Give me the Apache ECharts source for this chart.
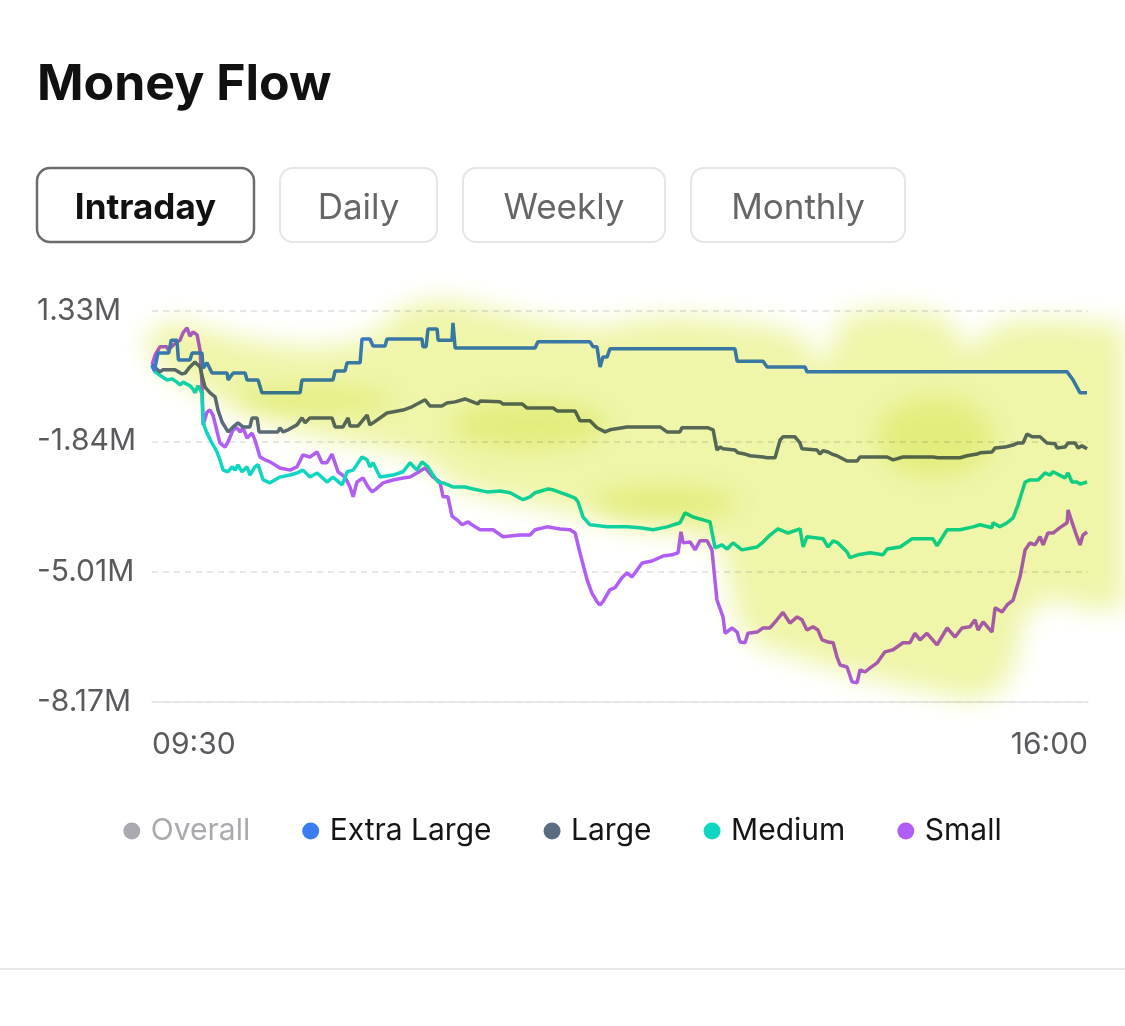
<!DOCTYPE html>
<html><head><meta charset="utf-8">
<script src="https://cdn.jsdelivr.net/npm/echarts@6/dist/echarts.min.js"></script>
<style>html,body{margin:0;padding:0;background:#fff}#c{width:1125px;height:1026px}</style>
</head><body><div id="c"></div>
<script>
// ---- data (values in millions, x = minutes after 09:30) ----
const legendNames = ['Overall', 'Extra Large', 'Large', 'Medium', 'Small'];
const periodButtons = ['Intraday', 'Daily', 'Weekly', 'Monthly'];
const xTickLabels = ['09:30', '16:00'];
const yTickLabels = ['-8.17M', '-5.01M', '-1.84M', '1.33M'];

const overallData = []; // hidden (legend item switched off)

const extraLargeData = [[0,0.0],[1,-0.12],[2.5,0.31],[7,0.31],[8,0.62],[10.4,0.62],[11,0.14],[15.8,0.14],[16.7,0.31],[20.8,0.31],[21.3,-0.06],[22.9,0.07],[25,-0.18],[31.3,-0.18],[31.7,-0.35],[33.8,-0.18],[38.8,-0.18],[39.6,-0.35],[44.2,-0.35],[45.8,-0.66],[61.7,-0.66],[62.5,-0.35],[75.4,-0.35],[76.3,-0.13],[80.4,-0.13],[81.3,0.07],[86.7,0.07],[87.5,0.65],[90.8,0.65],[92.1,0.48],[97.1,0.48],[97.9,0.65],[112.5,0.65],[112.9,0.46],[114.2,0.46],[115,0.89],[118.8,0.89],[119.2,0.62],[125,0.62],[125.4,1.04],[126.3,0.43],[159.6,0.43],[160.8,0.58],[182.5,0.58],[183.8,0.46],[185.4,0.46],[186.7,-0.03],[187.9,0.21],[189.6,0.21],[190.8,0.41],[242.9,0.41],[243.8,0.11],[254.6,0.11],[256.3,-0.03],[272.1,-0.03],[272.9,-0.15],[381.3,-0.15],[383.8,-0.35],[386.7,-0.66],[389.6,-0.66]];

const largeData = [[0,0.02],[3.3,-0.15],[4.6,-0.10],[9.6,-0.10],[12.5,-0.20],[13.8,-0.18],[15.8,-0.03],[17.9,0.09],[20,-0.03],[21.3,-0.35],[22.1,-0.52],[24.2,-0.66],[26.3,-0.76],[27.5,-1.08],[29.2,-1.37],[31.7,-1.61],[33.8,-1.49],[35.8,-1.39],[37.9,-1.49],[40.8,-1.49],[41.7,-1.27],[43.8,-1.27],[44.6,-1.61],[52.5,-1.61],[53.3,-1.51],[54.6,-1.61],[56.7,-1.56],[60.4,-1.44],[62.5,-1.27],[63.8,-1.39],[65.8,-1.27],[75,-1.27],[76.3,-1.49],[79.6,-1.49],[81.7,-1.27],[82.5,-1.47],[85.8,-1.47],[89.6,-1.20],[90.8,-1.44],[92.1,-1.39],[97.9,-1.15],[104.6,-1.08],[108.3,-1.00],[113.8,-0.83],[115.8,-0.98],[120.8,-0.98],[122.9,-0.91],[126.3,-0.88],[130.4,-0.81],[135.8,-0.93],[136.7,-0.86],[145,-0.88],[146.3,-0.93],[154.2,-0.93],[156.3,-1.03],[167.1,-1.03],[168.8,-1.10],[176.3,-1.10],[178.3,-1.34],[182.5,-1.34],[185.4,-1.51],[188.8,-1.61],[190.8,-1.56],[197.9,-1.49],[211.7,-1.49],[214.6,-1.61],[220,-1.61],[220.8,-1.51],[231.7,-1.51],[233.8,-1.56],[235.4,-2.05],[236.7,-1.98],[237.9,-2.02],[242.9,-2.05],[244.2,-2.12],[247.1,-2.15],[249.2,-2.19],[254.6,-2.22],[256.3,-2.24],[259.6,-2.24],[261.7,-1.81],[262.9,-1.73],[267.9,-1.73],[270,-1.88],[270.8,-2.02],[277.1,-2.05],[278.3,-2.15],[279.6,-2.07],[281.7,-2.10],[283.3,-2.15],[283.8,-2.12],[285.4,-2.19],[289.6,-2.32],[293.8,-2.32],[295,-2.22],[306.3,-2.22],[308.8,-2.29],[312.9,-2.22],[325.4,-2.22],[327.5,-2.24],[336.7,-2.24],[339.6,-2.19],[343.8,-2.15],[345,-2.12],[350,-2.10],[351.3,-2.00],[355.4,-1.98],[358.8,-1.93],[360.8,-1.88],[362.9,-1.88],[364.6,-1.66],[366.7,-1.73],[370,-1.73],[372.9,-1.88],[376.3,-1.90],[377.1,-2.00],[380.4,-1.98],[381.7,-1.88],[384.6,-1.88],[385.8,-2.00],[387.5,-1.95],[389.6,-2.02]];

const mediumData = [[0,0.02],[1.3,-0.15],[4.2,-0.27],[6.3,-0.35],[8.3,-0.32],[10.4,-0.40],[11.7,-0.47],[12.9,-0.40],[15.8,-0.49],[17.1,-0.57],[17.9,-0.66],[19.2,-0.49],[20.8,-0.66],[21.3,-1.39],[22.9,-1.64],[25,-1.88],[27.1,-2.10],[28.3,-2.29],[29.6,-2.54],[31.7,-2.58],[33.3,-2.46],[34.6,-2.54],[35.8,-2.41],[37.5,-2.58],[39.6,-2.46],[40.8,-2.66],[42.9,-2.46],[44.2,-2.41],[46.3,-2.78],[49.2,-2.85],[53.3,-2.71],[57.5,-2.66],[60.4,-2.61],[62.9,-2.54],[65.8,-2.71],[68.8,-2.61],[72.9,-2.83],[75.4,-2.71],[79.2,-2.90],[81.3,-2.58],[83.8,-2.54],[87.5,-2.22],[89.6,-2.29],[90.8,-2.46],[92.1,-2.36],[95,-2.71],[100.4,-2.66],[104.6,-2.58],[107.5,-2.36],[110.4,-2.54],[112.5,-2.34],[115,-2.46],[117.1,-2.66],[119.2,-2.83],[121.3,-2.85],[125.4,-2.95],[130.4,-2.95],[133.8,-3.00],[139.6,-3.07],[145,-3.05],[149.2,-3.09],[154.6,-3.26],[157.5,-3.19],[159.6,-3.09],[165,-3.00],[167.1,-3.02],[172.9,-3.14],[176.3,-3.22],[177.5,-3.31],[179.6,-3.68],[182.5,-3.87],[189.6,-3.92],[197.9,-3.92],[203.3,-3.94],[208.8,-3.99],[214.6,-3.92],[220,-3.82],[222.1,-3.58],[225.4,-3.68],[232.5,-3.80],[234.6,-4.43],[237.5,-4.36],[239.6,-4.46],[242.1,-4.31],[245.8,-4.48],[252.1,-4.41],[254.6,-4.29],[257.5,-4.12],[260.8,-3.97],[265,-4.07],[270,-3.97],[271.3,-4.41],[272.9,-4.16],[279.6,-4.21],[281.7,-4.41],[283.8,-4.26],[285.8,-4.31],[289.6,-4.53],[290.8,-4.67],[294.2,-4.60],[299.2,-4.55],[304.6,-4.60],[306.3,-4.46],[311.7,-4.41],[316.7,-4.21],[325.4,-4.21],[327.1,-4.38],[331.3,-3.99],[336.7,-3.99],[342.1,-3.92],[345,-3.87],[350,-3.94],[350.4,-3.82],[353.3,-3.92],[356.3,-3.82],[358.8,-3.70],[360.8,-3.39],[363.8,-2.83],[365.8,-2.78],[369.2,-2.78],[372.1,-2.61],[374.2,-2.66],[375.4,-2.58],[380.4,-2.73],[381.7,-2.61],[383.3,-2.83],[385.4,-2.83],[386.7,-2.88],[389.6,-2.83]];

const smallData = [[0,0.02],[1.3,0.26],[3.3,0.46],[6.3,0.46],[6.7,0.38],[8.8,0.50],[11.7,0.62],[12.9,0.80],[14.6,0.92],[15.8,0.72],[17.1,0.82],[18.8,0.75],[20,0.38],[20.8,-0.42],[21.3,-1.44],[22.9,-1.13],[24.2,-1.08],[25.4,-1.20],[28.3,-1.88],[30.4,-1.98],[31.7,-1.85],[33.8,-1.56],[35.4,-1.51],[36.7,-1.61],[37.9,-1.51],[39.6,-1.76],[41.7,-1.64],[42.9,-1.81],[45,-2.22],[47.1,-2.29],[49.2,-2.34],[53.3,-2.49],[57.5,-2.54],[60.4,-2.46],[62.9,-2.17],[65.8,-2.22],[68.8,-2.10],[70.8,-2.36],[72.9,-2.36],[75,-2.15],[77.5,-2.58],[80.4,-2.71],[82.5,-2.95],[83.8,-3.19],[85.4,-2.83],[87.9,-2.73],[90,-2.95],[91.7,-3.07],[92.9,-3.02],[96.3,-2.85],[100.4,-2.78],[104.6,-2.73],[107.5,-2.71],[110.4,-2.61],[113.8,-2.49],[114.6,-2.54],[117.1,-2.71],[120,-2.83],[121.3,-3.19],[123.3,-3.19],[125,-3.66],[127.1,-3.75],[129.2,-3.87],[131.7,-3.80],[133.3,-3.87],[136.7,-3.99],[142.1,-3.99],[146.3,-4.16],[153.3,-4.12],[157.5,-4.12],[159.6,-3.99],[164.6,-3.92],[170,-3.97],[174.2,-3.99],[176.3,-4.07],[178.3,-4.55],[181.3,-5.21],[183.3,-5.53],[185.4,-5.74],[186.7,-5.82],[187.9,-5.74],[190.8,-5.45],[192.9,-5.40],[195.8,-5.16],[197.9,-5.04],[200,-5.14],[204.2,-4.80],[208.3,-4.75],[212.9,-4.63],[216.7,-4.60],[219.2,-4.55],[220.4,-4.04],[221.3,-4.31],[224.2,-4.29],[226.3,-4.48],[228.3,-4.26],[231.3,-4.26],[233.3,-4.48],[235.4,-5.70],[237.9,-6.11],[238.8,-6.51],[241.7,-6.38],[243.8,-6.48],[245,-6.72],[247.1,-6.74],[248.3,-6.51],[252.1,-6.48],[254.6,-6.38],[257.5,-6.38],[260.4,-6.18],[262.9,-6.00],[265.8,-6.26],[268.8,-6.11],[270.8,-6.18],[272.9,-6.43],[275.4,-6.35],[277.5,-6.43],[279.2,-6.67],[281.7,-6.72],[283.8,-6.74],[285.4,-7.08],[286.7,-7.28],[289.6,-7.33],[291.7,-7.69],[293.8,-7.71],[295,-7.40],[297.1,-7.45],[299.2,-7.35],[302.1,-7.23],[305.4,-6.96],[308.8,-6.91],[312.9,-6.74],[315.8,-6.74],[317.9,-6.51],[320,-6.67],[322.9,-6.51],[327.1,-6.79],[331.3,-6.38],[334.6,-6.60],[337.5,-6.38],[340.8,-6.35],[342.9,-6.18],[344.2,-6.43],[346.3,-6.23],[350,-6.48],[351.3,-5.89],[354.2,-5.99],[356.3,-5.82],[358.8,-5.70],[361.7,-5.13],[363.8,-4.48],[365.8,-4.31],[367.9,-4.36],[370,-4.16],[371.3,-4.36],[373.3,-4.07],[375.4,-4.07],[378.3,-3.94],[381.3,-3.82],[381.7,-3.51],[383.3,-3.80],[385.4,-4.16],[386.7,-4.36],[387.9,-4.12],[389.6,-4.04]];

// ---- styling ----
const FONT = 'Inter, "DejaVu Sans", sans-serif';
const colors = { 'Overall': '#b6b6bc', 'Extra Large': '#3b7cf2', 'Large': '#5b6b80', 'Medium': '#0fd6c2', 'Small': '#b05ef5' };

// decorative highlighter wash (page pixels)
const washMain = [[145,340],[160,326],[180,321],[205,329],[234,337],[270,344],[303,347],[340,346],[366,339],[385,324],[405,308],[430,300],[460,302],[492,310],[530,318],[567,325],[600,328],[625,322],[660,317],[700,318],[740,322],[780,328],[805,336],[815,362],[828,358],[840,318],[880,309],[925,312],[950,320],[962,345],[975,348],[987,330],[1010,322],[1051,320],[1125,325],[1125,608],[1095,610],[1050,598],[1025,615],[1015,660],[1002,690],[970,700],[925,690],[862,677],[806,660],[756,645],[737,620],[728,575],[722,548],[686,534],[630,528],[548,508],[492,497],[455,487],[432,466],[410,455],[370,447],[328,440],[266,422],[222,402],[190,386],[165,370],[148,356]];
const washSpots = [[312,400,82,12],[530,425,78,24],[665,502,72,16],[935,437,58,40]];

function ellipsePts(cx, cy, rx, ry) {
  const p = [];
  for (let i = 0; i < 36; i++) { const a = i / 36 * Math.PI * 2; p.push([cx + rx * Math.cos(a), cy + ry * Math.sin(a)]); }
  return p;
}
const OFF = 4000;
function washEl(points, blur, color) {
  return { type: 'polygon', z: 50, silent: true,
    shape: { points: points.map(p => [p[0] - OFF, p[1]]) },
    style: { fill: '#000', shadowBlur: blur, shadowColor: color, shadowOffsetX: OFF, shadowOffsetY: 0, blend: 'multiply' } };
}

const buttonBoxes = [[37,168,217,74],[280,168,157,74],[463,168,202,74],[691,168,214,74]];
const graphics = [];
periodButtons.forEach((label, i) => {
  const [x, y, w, h] = buttonBoxes[i];
  const active = i === 0;
  graphics.push({ type: 'rect', z: 10, shape: { x, y, width: w, height: h, r: 13 },
    style: { fill: '#fff', stroke: active ? '#6b6b70' : '#e5e5ea', lineWidth: active ? 2.5 : 2 } });
  graphics.push({ type: 'text', z: 11, x: x + w / 2, y: y + h / 2 + 3,
    style: { text: label, align: 'center', verticalAlign: 'middle', fontFamily: FONT, fontSize: 35,
      fontWeight: active ? 700 : 400, fill: active ? '#111' : '#666' } });
});
graphics.push({ type: 'line', z: 10, shape: { x1: 0, y1: 969, x2: 1125, y2: 969 }, style: { stroke: '#e8e8ea', lineWidth: 2 } });
graphics.push(washEl(washMain, 26, 'rgba(214,230,40,0.40)'));
washSpots.forEach(s => graphics.push(washEl(ellipsePts(s[0], s[1], s[2], s[3]), 22, 'rgba(214,230,40,0.30)')));

function lineSeries(name, data) {
  return { name, type: 'line', data, symbol: 'none', showSymbol: false, smooth: false,
    lineStyle: { width: 3.5, color: colors[name] }, itemStyle: { color: colors[name] },
    emphasis: { disabled: true }, animation: false };
}

const option = {
  animation: false,
  backgroundColor: '#fff',
  title: { text: 'Money Flow', left: 32, top: 55,
    textStyle: { fontFamily: FONT, fontSize: 50, fontWeight: 700, color: '#111' } },
  grid: { left: 152, right: 37, top: 311, bottom: 324, containLabel: false, outerBoundsMode: 'none' },
  legend: {
    data: legendNames, selected: { 'Overall': false },
    left: 'center', top: 811, icon: 'circle', itemWidth: 28, itemHeight: 17, itemGap: 52,
    inactiveColor: '#a9a9b0',
    textStyle: { fontFamily: FONT, fontSize: 30, color: '#151515' }
  },
  xAxis: {
    type: 'value', min: 0, max: 390, interval: 390,
    axisLine: { show: true, onZero: false, lineStyle: { color: '#e4e4e6', width: 1.5 } },
    axisTick: { show: false }, splitLine: { show: false },
    axisLabel: { margin: 28, fontFamily: FONT, fontSize: 30, color: '#5a5a5e',
      alignMinLabel: 'left', alignMaxLabel: 'right',
      formatter: (v, i) => xTickLabels[i] || '' }
  },
  yAxis: {
    type: 'value', min: -8.18, max: 1.33, interval: 3.17,
    axisLine: { show: false }, axisTick: { show: false },
    splitLine: { show: true, lineStyle: { color: '#e0e0e2', type: [6, 5], width: 1.5 } },
    axisLabel: { margin: 115, align: 'left', fontFamily: FONT, fontSize: 30, color: '#5a5a5e',
      formatter: (v, i) => yTickLabels[i] || '' }
  },
  series: [
    lineSeries('Overall', overallData),
    lineSeries('Small', smallData),
    lineSeries('Medium', mediumData),
    lineSeries('Large', largeData),
    lineSeries('Extra Large', extraLargeData)
  ],
  graphic: graphics
};
const chart = echarts.init(document.getElementById('c'), null, { renderer: 'canvas' });
chart.setOption(option);
</script></body></html>
